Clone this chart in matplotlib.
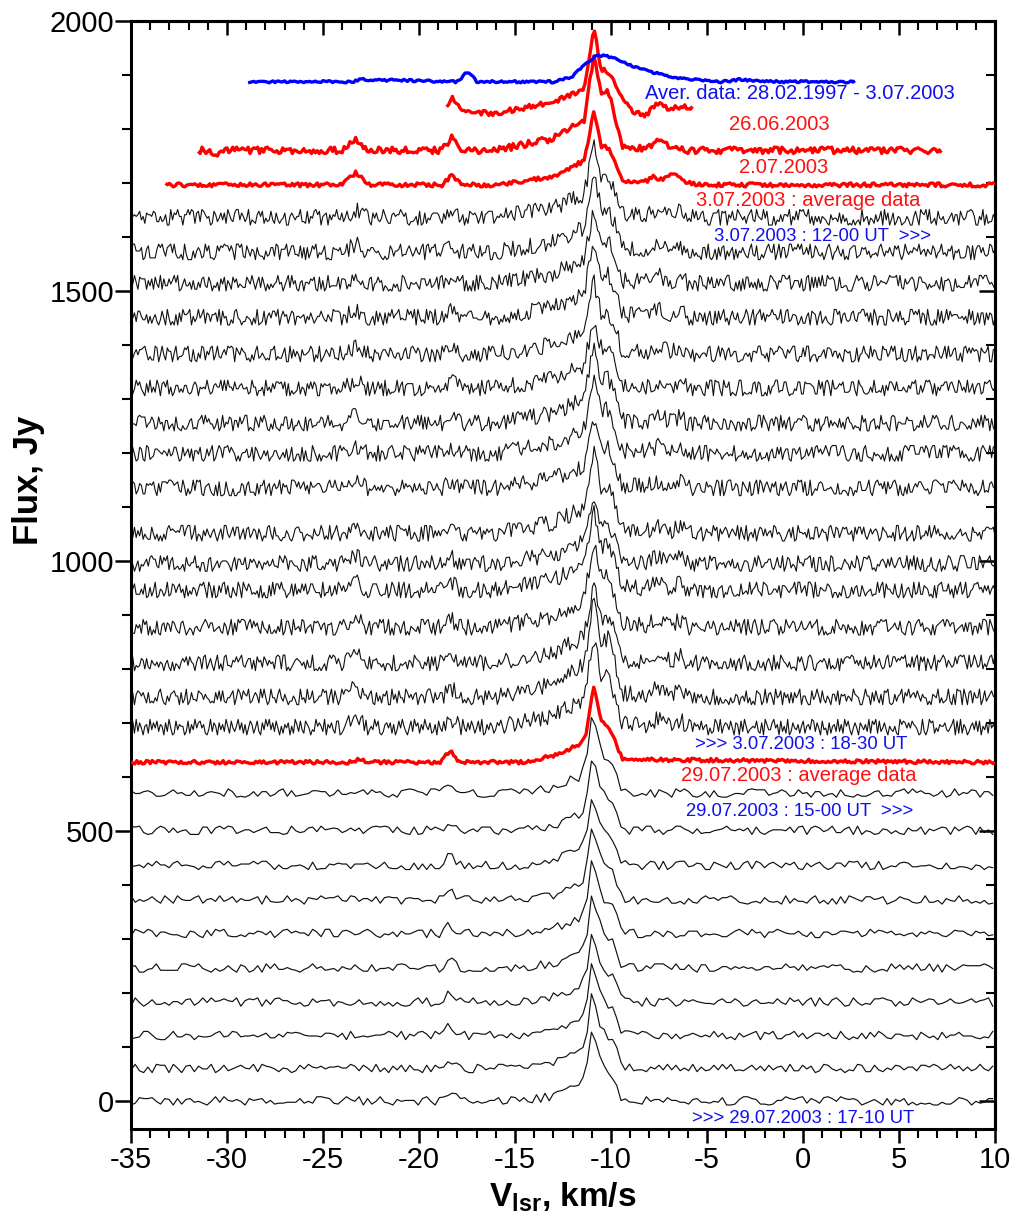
import numpy as np
import matplotlib
matplotlib.use("Agg")
import matplotlib.pyplot as plt
from matplotlib.ticker import MultipleLocator, NullFormatter

plt.rcParams['font.family'] = ['Liberation Sans', 'DejaVu Sans']
plt.rcParams['mathtext.fontset'] = 'custom'
plt.rcParams['mathtext.rm'] = 'Liberation Sans'
plt.rcParams['mathtext.bf'] = 'Liberation Sans:bold'
plt.rcParams['axes.unicode_minus'] = False

# ---------------- data ----------------
# hand-typed noise table (digits), shared by all spectra
NOISE_DIGITS = (
    "3819274056 1937482650 7294018365 5028163947 8461039275 0736295184 2593716048 6148207395 9372840516 4705196283 "
    "1864032957 5290647318 8013579246 6427918035 3958102674 7160384952 0482957163 9537126084 2718650349 6094273851 "
    "4829016375 1375840269 8602731594 5149367082 3086452917 7923108546 0657293418 9214586730 5361079824 1798345602 "
    "6230918475 4871256039 0149827563 8356041297 2915763840 7608295134 5482170963 3794608251 9027436158 1563982740 "
    "8340715629 2619583047 4075362918 6918247305 3251096874 7486530192 0397814265 5732469081 9164025738 2805371946 "
    "4659182703 1027954386 6391708254 8543216097 0718493625 3296857410 7840362159 5183740926 9465021387 2039648571 "
    "6712085934 4128597360 8597413026 0364729185 3851604972 7203815469 1946370528 5670298413 9084152637 2415786039"
)

# 3.07.2003 individual spectra (upper group): line template (Jy above baseline)
UP_V = [-35, -23.9, -23.3, -22.7, -18.8, -18.3, -17.8, -16.0, -13.0, -11.8, -11.4,
        -10.9, -10.5, -10.15, -9.8, -9.4, -8.2, -7.5, -6.9, -6.4, -6.0, 10]
UP_F = [0, 0, 15, 0, 0, 12, 0, 0, 18, 38, 45,
        140, 78, 82, 50, 5, 3, 14, 3, 12, 0, 0]
UP_BASE = [692, 748, 811, 877, 946, 995, 1051, 1135, 1199, 1255, 1320, 1383, 1451, 1514, 1572, 1636]
UP_PEAK = [165, 185, 150, 160, 145, 125, 150, 130, 140, 140, 130, 135, 140, 140, 140, 132]
UP_START = [0, 61, 127, 188, 249, 318, 377, 441, 503, 566, 629, 683, 35, 92, 151, 214]
UP_STEP = [1, 3, 9, 11, 13, 17, 19, 23, 27, 29, 31, 33, 37, 39, 41, 43]

# 29.07.2003 individual spectra (lower group)
LO_V = [-35, -18.9, -18.4, -17.9, -14.5, -12.9, -12.0, -11.6, -11.3, -11.0,
        -10.5, -10.1, -9.8, -9.45, -9.0, 10]
LO_F = [0, 0, 18, 0, 0, 10, 24, 28, 50, 135,
        68, 52, 45, 5, 0, 0]
LO_BASE = [0, 60, 121, 183, 246, 310, 372, 436, 501, 570]
LO_PEAK = [132, 140, 138, 135, 140, 136, 138, 135, 140, 145]
LO_START = [7, 77, 151, 222, 297, 363, 431, 509, 577, 648]
LO_STEP = [47, 3, 51, 11, 53, 17, 59, 23, 61, 29]

# averaged spectra
BLUE_V = [-28.9, -23.5, -23.0, -18.0, -17.45, -17.0, -13.0, -12.0, -11.4, -10.8,
          -10.2, -9.5, -8.6, -7.8, -6.9, -6.0, -4.3, -3.2, -2.2, 2.7]
BLUE_F = [0, 0, 4, 0, 20, 0, 0, 10, 32, 47,
          48, 38, 26, 17, 9, 5, 0, 4, 0, 0]
BLUE_BASE = 1887

R2606_V = [-18.56, -18.3, -17.6, -16.0, -13.0, -11.8, -11.4, -10.9, -10.5, -10.15,
           -9.8, -9.4, -8.8, -8.2, -7.6, -7.0, -6.4, -5.73]
R2606_F = [10, 28, 0, 0, 20, 38, 40, 157, 80, 76,
           55, 25, 0, -4, 18, 8, 10, 12]
R2606_BASE = 1829

R0207_V = [-31.5, -31.0, -30.6, -30.2, -24.0, -23.3, -22.6, -18.8, -18.3, -17.8,
           -16.0, -13.0, -11.8, -11.4, -10.9, -10.5, -10.15, -9.8, -9.4, -8.3,
           -7.6, -6.9, -6.0, 7.24]
R0207_F = [0, 0, -8, 0, 0, 18, 0, 0, 25, 0,
           0, 22, 48, 52, 178, 110, 112, 60, 8, 4,
           16, 6, 0, 0]
R0207_BASE = 1760

R0307_V = [-33.2, -24.0, -23.3, -22.6, -18.8, -18.3, -17.8, -16.0, -13.0, -11.8,
           -11.4, -10.9, -10.5, -10.15, -9.8, -9.4, -8.3, -7.8, -7.3, -6.8, -6.2, -5.5, 10]
R0307_F = [0, 0, 22, 0, 0, 18, 0, 0, 16, 38,
           44, 135, 72, 68, 40, 5, 4, 15, 8, 22, 5, 0, 0]
R0307_BASE = 1696

R2907_V = [-35, -23.6, -23.1, -22.6, -18.9, -18.4, -17.9, -14.5, -13.3, -12.6,
           -12.1, -11.6, -11.3, -10.9, -10.5, -10.15, -9.8, -9.4, 10]
R2907_F = [0, 0, 5, 0, 0, 22, 0, 0, 10, 16,
           26, 32, 55, 140, 75, 68, 40, 5, 0]
R2907_BASE = 627

LABELS = [
    ("Aver. data: 28.02.1997 - 3.07.2003", -0.16, 1866, '#1010ee', 14.5),
    ("26.06.2003", -1.25, 1807, '#ff1010', 14.5),
    ("2.07.2003", -0.99, 1729, '#ff1010', 14.5),
    ("3.07.2003 : average data", 0.26, 1668, '#ff1010', 14.5),
    ("3.07.2003 : 12-00 UT  >>>", 0.99, 1600, '#1010ee', 13.3),
    (">>> 3.07.2003 : 18-30 UT", -0.1, 659, '#1010ee', 13.3),
    ("29.07.2003 : average data", -0.2, 603, '#ff1010', 14.5),
    ("29.07.2003 : 15-00 UT  >>>", -0.16, 535, '#1010ee', 13.3),
    (">>> 29.07.2003 : 17-10 UT", 0.0, -32, '#1010ee', 13.3),
]

# ---------------- build ----------------
noise = np.array([int(c) for c in NOISE_DIGITS.replace(" ", "")], dtype=float) - 4.5


def spectrum(grid, base, kv, kf, scale, amp, start, step):
    prof = np.interp(grid, kv, kf) * scale
    n = noise[(start + step * np.arange(grid.size)) % noise.size]
    return base + prof + amp * n


fig = plt.figure(figsize=(10.14, 12.25), dpi=100)
ax = fig.add_axes([0.1292, 0.0784, 0.8521, 0.9047])

grid_up = np.arange(-35, 10.0001, 0.09)
for b, p, s0, st in zip(UP_BASE, UP_PEAK, UP_START, UP_STEP):
    y = spectrum(grid_up, b, UP_V, UP_F, p / 140.0, 3.2, s0, st)
    ax.plot(grid_up, y, color='#111111', lw=0.8, zorder=2)

grid_lo = np.arange(-35, 10.0001, 0.22)
for b, p, s0, st in zip(LO_BASE, LO_PEAK, LO_START, LO_STEP):
    y = spectrum(grid_lo, b, LO_V, LO_F, p / 135.0, 1.7, s0, st)
    ax.plot(grid_lo, y, color='#111111', lw=0.85, zorder=2)


def avg_line(kv, kf, base, amp, start, step, color):
    g = np.arange(kv[0], kv[-1] + 1e-6, 0.1)
    y = spectrum(g, base, kv, kf, 1.0, amp, start, step)
    ax.plot(g, y, color=color, lw=2.4, zorder=3, solid_capstyle='butt')


avg_line(R2907_V, R2907_F, R2907_BASE, 0.7, 13, 3, '#ff0000')
avg_line(R0307_V, R0307_F, R0307_BASE, 0.8, 101, 9, '#ff0000')
avg_line(R0207_V, R0207_F, R0207_BASE, 1.3, 211, 11, '#ff0000')
avg_line(R2606_V, R2606_F, R2606_BASE, 1.0, 333, 13, '#ff0000')
avg_line(BLUE_V, BLUE_F, BLUE_BASE, 0.45, 417, 17, '#0000ff')

for txt, x, y, c, fs in LABELS:
    ax.text(x, y, txt, color=c, fontsize=fs, ha='center', va='center', zorder=5)

ax.set_xlim(-35, 10)
ax.set_ylim(-52, 2000)
ax.xaxis.set_major_locator(MultipleLocator(5))
ax.xaxis.set_minor_locator(MultipleLocator(1))
ax.yaxis.set_major_locator(MultipleLocator(500))
ax.yaxis.set_minor_locator(MultipleLocator(100))

ax.tick_params(axis='x', which='major', direction='out', length=10, width=1.8,
               labelsize=21, pad=2, top=False)
ax.tick_params(axis='x', which='minor', direction='out', length=6.5, width=1.5, top=False)
ax.tick_params(axis='y', which='major', direction='out', length=11.5, width=1.8,
               labelsize=21, pad=0.5, right=False)
ax.tick_params(axis='y', which='minor', direction='out', length=6.5, width=1.5, right=False)
for sp in ax.spines.values():
    sp.set_linewidth(2.2)

secx = ax.secondary_xaxis('top')
secx.xaxis.set_major_locator(MultipleLocator(5))
secx.xaxis.set_minor_locator(MultipleLocator(1))
secx.xaxis.set_major_formatter(NullFormatter())
secx.tick_params(which='major', direction='in', length=10, width=1.8)
secx.tick_params(which='minor', direction='in', length=6.5, width=1.5)
for sp in secx.spines.values():
    sp.set_linewidth(2.2)

secy = ax.secondary_yaxis('right')
secy.yaxis.set_major_locator(MultipleLocator(500))
secy.yaxis.set_minor_locator(MultipleLocator(100))
secy.yaxis.set_major_formatter(NullFormatter())
secy.tick_params(which='major', direction='in', length=11.5, width=1.8)
secy.tick_params(which='minor', direction='in', length=6.5, width=1.5)
for sp in secy.spines.values():
    sp.set_linewidth(2.2)

ax.set_xlabel(r'$\mathbf{V}_{\mathbf{lsr}}$, km/s', fontsize=24, fontweight='bold')
ax.xaxis.set_label_coords(0.5, -0.046)
ax.xaxis.label.set_va('top')
ax.set_ylabel('Flux, Jy', fontsize=25, fontweight='bold')
ax.yaxis.set_label_coords(-0.10, 0.585)

fig.savefig('out.png', dpi=100)
